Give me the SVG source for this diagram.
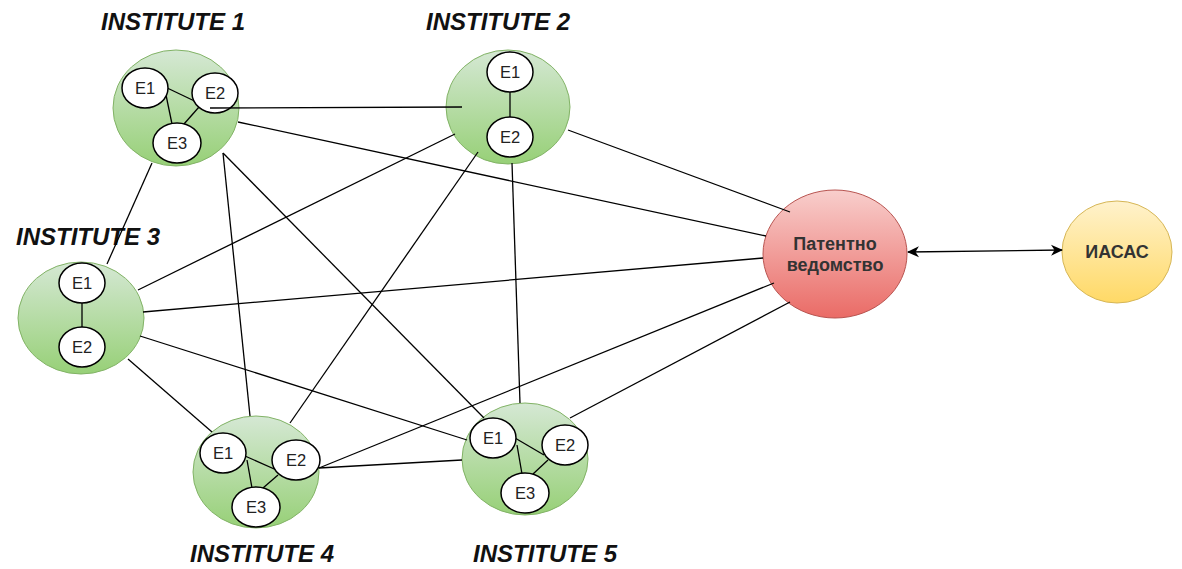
<svg xmlns="http://www.w3.org/2000/svg" width="1182" height="569" viewBox="0 0 1182 569">
  <defs>
    <linearGradient id="gGreen" x1="0" y1="0" x2="0" y2="1">
      <stop offset="0" stop-color="#d5e8d4"/>
      <stop offset="1" stop-color="#97d077"/>
    </linearGradient>
    <linearGradient id="gRed" x1="0" y1="0" x2="0" y2="1">
      <stop offset="0" stop-color="#f8cecc"/>
      <stop offset="1" stop-color="#ea6b66"/>
    </linearGradient>
    <linearGradient id="gYellow" x1="0" y1="0" x2="0" y2="1">
      <stop offset="0" stop-color="#fff2cc"/>
      <stop offset="1" stop-color="#ffd966"/>
    </linearGradient>
    <marker id="arrow" viewBox="0 0 12 12" refX="11" refY="6" markerWidth="12" markerHeight="12" markerUnits="userSpaceOnUse" orient="auto-start-reverse">
      <path d="M0,0.5 L12,6 L0,11.5 L3.5,6 Z" fill="#000"/>
    </marker>
    <style>
      .inst { fill: url(#gGreen); stroke: #82b366; stroke-width: 1; }
      .emp { fill: #fff; stroke: #000; stroke-width: 1.5; }
      .link { stroke: #000; stroke-width: 1.3; fill: none; }
      .etext { font-family: "Liberation Sans", Arial, sans-serif; font-size: 16.5px; fill: #222; text-anchor: middle; }
      .title { font-family: "Liberation Sans", Arial, sans-serif; font-size: 24px; font-weight: bold; font-style: italic; fill: #111; text-anchor: middle; }
      .btext { font-family: "Liberation Sans", Arial, sans-serif; font-size: 18px; font-weight: bold; fill: #333; text-anchor: middle; }
    </style>
  </defs>
  <rect width="1182" height="569" fill="#fff"/>

  <!-- Institute 1 -->
  <g id="institute1">
    <ellipse class="inst" cx="176" cy="108" rx="63" ry="58"/>
    <line class="link" x1="163" y1="86" x2="205" y2="106"/>
    <line class="link" x1="166" y1="95" x2="172" y2="124"/>
    <line class="link" x1="199" y1="107" x2="184" y2="124"/>
    <ellipse class="emp" cx="145" cy="88" rx="23" ry="20"/>
    <text class="etext" x="145" y="94">E1</text>
    <ellipse class="emp" cx="215" cy="93" rx="23" ry="20"/>
    <text class="etext" x="215" y="99">E2</text>
    <ellipse class="emp" cx="177" cy="143" rx="24" ry="20"/>
    <text class="etext" x="177" y="149">E3</text>
    <text class="title" x="173" y="30">INSTITUTE 1</text>
  </g>

  <!-- Institute 2 -->
  <g id="institute2">
    <ellipse class="inst" cx="508" cy="107" rx="62" ry="57"/>
    <line class="link" x1="510" y1="92" x2="510" y2="117"/>
    <ellipse class="emp" cx="510" cy="72" rx="23" ry="20"/>
    <text class="etext" x="510" y="78">E1</text>
    <ellipse class="emp" cx="510" cy="137" rx="23" ry="20"/>
    <text class="etext" x="510" y="143">E2</text>
    <text class="title" x="498" y="30">INSTITUTE 2</text>
  </g>

  <!-- Institute 3 -->
  <g id="institute3">
    <ellipse class="inst" cx="81" cy="318" rx="63" ry="56"/>
    <line class="link" x1="82" y1="303" x2="82" y2="327"/>
    <ellipse class="emp" cx="82" cy="283" rx="23" ry="20"/>
    <text class="etext" x="82" y="289">E1</text>
    <ellipse class="emp" cx="82" cy="347" rx="23" ry="20"/>
    <text class="etext" x="82" y="353">E2</text>
    <text class="title" x="88" y="245">INSTITUTE 3</text>
  </g>

  <!-- Institute 4 -->
  <g id="institute4">
    <ellipse class="inst" cx="256" cy="472" rx="63" ry="56"/>
    <line class="link" x1="245" y1="456" x2="281" y2="472"/>
    <line class="link" x1="247" y1="460" x2="252" y2="488"/>
    <line class="link" x1="278" y1="475" x2="263" y2="488"/>
    <ellipse class="emp" cx="223" cy="453" rx="23" ry="20"/>
    <text class="etext" x="223" y="459">E1</text>
    <ellipse class="emp" cx="296" cy="460" rx="24" ry="20"/>
    <text class="etext" x="296" y="466">E2</text>
    <ellipse class="emp" cx="256" cy="507" rx="24" ry="20"/>
    <text class="etext" x="256" y="513">E3</text>
    <text class="title" x="262" y="562">INSTITUTE 4</text>
  </g>

  <!-- Institute 5 -->
  <g id="institute5">
    <ellipse class="inst" cx="525" cy="459" rx="63" ry="56"/>
    <line class="link" x1="515" y1="438" x2="544" y2="455"/>
    <line class="link" x1="517" y1="445" x2="522" y2="474"/>
    <line class="link" x1="548" y1="460" x2="533" y2="474"/>
    <ellipse class="emp" cx="493" cy="438" rx="23" ry="20"/>
    <text class="etext" x="493" y="444">E1</text>
    <ellipse class="emp" cx="565" cy="445" rx="23" ry="20"/>
    <text class="etext" x="565" y="451">E2</text>
    <ellipse class="emp" cx="525" cy="493" rx="24" ry="20"/>
    <text class="etext" x="525" y="499">E3</text>
    <text class="title" x="545" y="562">INSTITUTE 5</text>
  </g>

  <!-- Patent office -->
  <g id="patent">
    <ellipse cx="835" cy="254" rx="72" ry="64" fill="url(#gRed)" stroke="#b85450" stroke-width="1"/>
    <text class="btext" x="835" y="250">Патентно</text>
    <text class="btext" x="835" y="271">ведомство</text>
  </g>

  <!-- IASAC -->
  <g id="iasac">
    <ellipse cx="1117" cy="252" rx="55" ry="51" fill="url(#gYellow)" stroke="#d6b656" stroke-width="1"/>
    <text class="btext" x="1117" y="258">ИАСАС</text>
  </g>

  <!-- Connectors -->
  <g id="connectors">
    <line class="link" x1="210" y1="108" x2="462" y2="107"/>
    <line class="link" x1="238" y1="122" x2="766" y2="236"/>
    <line class="link" x1="152" y1="163" x2="107" y2="264"/>
    <line class="link" x1="223" y1="153" x2="250" y2="416"/>
    <line class="link" x1="223" y1="153" x2="484" y2="418"/>
    <line class="link" x1="455" y1="134" x2="138" y2="290"/>
    <line class="link" x1="478" y1="152" x2="290" y2="423"/>
    <line class="link" x1="512" y1="163" x2="520" y2="403"/>
    <line class="link" x1="568" y1="130" x2="790" y2="212"/>
    <line class="link" x1="143" y1="312" x2="763" y2="258"/>
    <line class="link" x1="128" y1="359" x2="212" y2="432"/>
    <line class="link" x1="140" y1="336" x2="467" y2="440"/>
    <line class="link" x1="319" y1="468" x2="462" y2="460"/>
    <line class="link" x1="319" y1="468" x2="774" y2="283"/>
    <line class="link" x1="570" y1="418" x2="790" y2="302"/>
    <line class="link" x1="908" y1="252" x2="1062" y2="250" marker-start="url(#arrow)" marker-end="url(#arrow)"/>
  </g>
</svg>
